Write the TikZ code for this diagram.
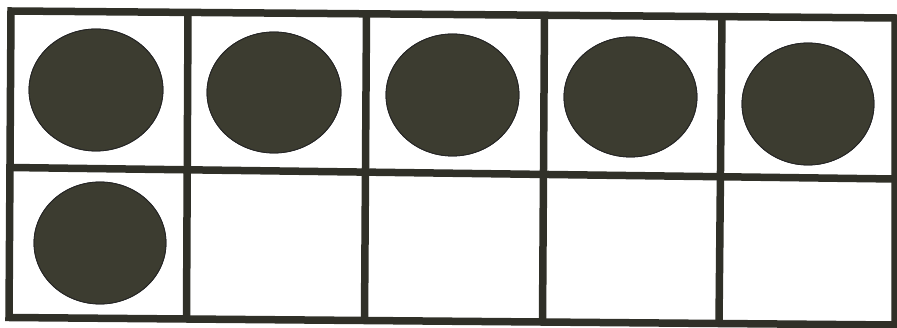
\documentclass[tikz,border=0pt]{standalone}
\usetikzlibrary{calc}
\definecolor{gridc}{RGB}{48,48,40}
\definecolor{dotc}{RGB}{60,60,48}
\tikzset{
  gridline/.style={draw=gridc, line width=7.5pt, line join=miter, line cap=butt},
  counter/.style={fill=dotc, draw=black!85, line width=0.8pt}
}
\begin{document}
\begin{tikzpicture}[x=1pt,y=-1pt]
\useasboundingbox[fill=white] (0,0) rectangle (897,328);
% corners and line ends
\coordinate (tl) at (11,11);
\coordinate (tr) at (895,18);
\coordinate (br) at (895,325);
\coordinate (bl) at (9,317.5);
\coordinate (ml) at (10,167.5);
\coordinate (mr) at (895,179);
\coordinate (v1t) at (188,12.5);   \coordinate (v1b) at (186.5,319);
\coordinate (v2t) at (366.5,14);   \coordinate (v2b) at (364.5,320.5);
\coordinate (v3t) at (544.5,15.5); \coordinate (v3b) at (542.5,322);
\coordinate (v4t) at (722,16.5);   \coordinate (v4b) at (719,323.5);
% counters
\fill[counter] (96,90) ellipse [x radius=67, y radius=61];
\fill[counter] (274,92.5) ellipse [x radius=67, y radius=60.5];
\fill[counter] (452.5,95) ellipse [x radius=66.5, y radius=61];
\fill[counter] (630.5,97) ellipse [x radius=66.5, y radius=60];
\fill[counter] (808,104) ellipse [x radius=66, y radius=61];
\fill[counter] (100,243) ellipse [x radius=66, y radius=61];
\draw[counter, fill=none] (96,90) ellipse [x radius=67, y radius=61];
\draw[counter, fill=none] (274,92.5) ellipse [x radius=67, y radius=60.5];
\draw[counter, fill=none] (452.5,95) ellipse [x radius=66.5, y radius=61];
\draw[counter, fill=none] (630.5,97) ellipse [x radius=66.5, y radius=60];
\draw[counter, fill=none] (808,104) ellipse [x radius=66, y radius=61];
\draw[counter, fill=none] (100,243) ellipse [x radius=66, y radius=61];
% grid
\draw[gridline] (tl) -- (tr) -- (br) -- (bl) -- cycle;
\draw[gridline] (ml) -- (mr);
\draw[gridline] (v1t) -- (v1b);
\draw[gridline] (v2t) -- (v2b);
\draw[gridline] (v3t) -- (v3b);
\draw[gridline] (v4t) -- (v4b);
\end{tikzpicture}
\end{document}
